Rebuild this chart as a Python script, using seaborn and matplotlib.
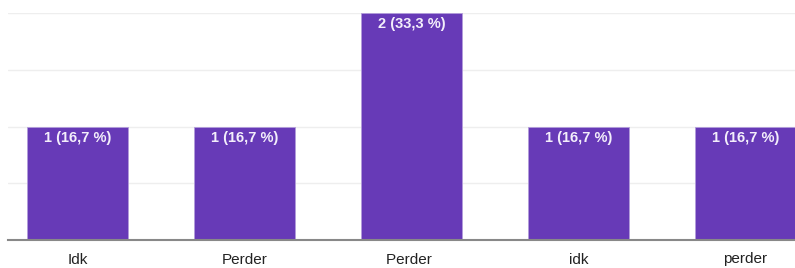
import matplotlib
matplotlib.use("Agg")
import matplotlib.pyplot as plt
import seaborn as sns
import pandas as pd

# --- datos ---
respuestas = ['Idk', 'Perder', 'Perder ', 'idk', 'perder']
conteos = [1, 1, 2, 1, 1]
etiquetas = ['1 (16,7 %)', '1 (16,7 %)', '2 (33,3 %)', '1 (16,7 %)', '1 (16,7 %)']

df = pd.DataFrame({'respuesta': respuestas, 'conteo': conteos})

sns.set_theme(style="white")
plt.rcParams['font.family'] = ['Liberation Sans', 'DejaVu Sans']

fig = plt.figure(figsize=(7.95, 2.68), dpi=100)
ax = fig.add_axes([8 / 795, 28 / 268, 787 / 795, 227 / 268])

sns.barplot(data=df, x='respuesta', y='conteo', color='#673AB7', saturation=1,
            width=0.61, ax=ax, edgecolor='#B39DDB', linewidth=0.6)

ax.set_ylim(0, 2)
ax.set_xlim(-0.416, 4.296)
ax.set_yticks([0, 0.5, 1, 1.5, 2])
ax.yaxis.grid(True, color='#EEEEEE', linewidth=1)
ax.set_axisbelow(True)
ax.tick_params(axis='y', left=False, labelleft=False)
ax.tick_params(axis='x', bottom=False, labelsize=11, colors='#222222', pad=3)
ax.set_xlabel('')
ax.set_ylabel('')
for lado in ['top', 'right', 'left']:
    ax.spines[lado].set_visible(False)
ax.spines['bottom'].set_color('#888888')
ax.spines['bottom'].set_linewidth(1.5)

for i, (v, txt) in enumerate(zip(conteos, etiquetas)):
    ax.annotate(txt, (i, v), xytext=(0, -3), textcoords='offset points',
                ha='center', va='top', color='#F3EEFB', fontsize=10.5,
                fontweight='bold')

fig.savefig('out.png', dpi=100)
